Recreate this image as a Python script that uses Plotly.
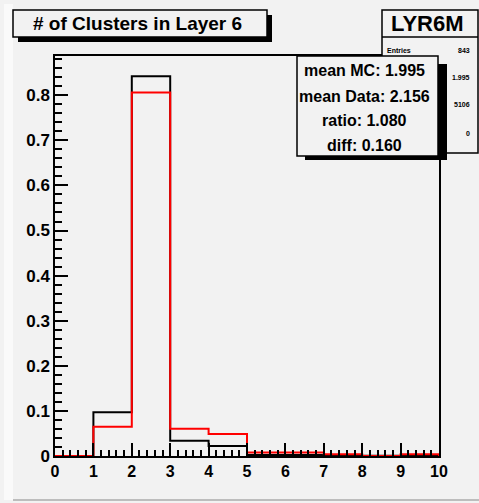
import plotly.graph_objects as go

# ---- data ----
bin_edges = [0, 1, 2, 3, 4, 5, 6, 7, 8, 9, 10]
mc_values = [0.0, 0.097, 0.842, 0.034, 0.022, 0.002, 0.002, 0.0005, 0.0003, 0.0002]
data_values = [0.0, 0.065, 0.806, 0.0605, 0.049, 0.008, 0.008, 0.004, 0.0, 0.004]
y_ticks = [0, 0.1, 0.2, 0.3, 0.4, 0.5, 0.6, 0.7, 0.8]
y_tick_labels = ["0", "0.1", "0.2", "0.3", "0.4", "0.5", "0.6", "0.7", "0.8"]
x_ticks = [0, 1, 2, 3, 4, 5, 6, 7, 8, 9, 10]
title_text = "# of Clusters in Layer 6"
stats_name = "LYR6M"
stats_rows = [("Entries", "843"), ("Mean", "1.995"), ("RMS", "0.5106"), ("Underflow", "0")]
info_lines = ["mean MC: 1.995", "mean Data: 2.156", "ratio: 1.080", "diff: 0.160"]

W, H = 479, 503
L, R, T, B = 55, 439, 56, 456  # plot area in pixels


def px(x):
    return (x - L) / (R - L)


def py(y):
    return (B - y) / (B - T)


def step_xy(edges, vals):
    xs = list(edges) + [edges[-1]]
    ys = list(vals) + [vals[-1], 0]
    return xs, ys


FONT = "Liberation Sans"
fig = go.Figure()
mx, my = step_xy(bin_edges, mc_values)
dx, dy = step_xy(bin_edges, data_values)
fig.add_trace(go.Scatter(x=mx, y=my, mode="lines", line=dict(color="black", width=2, shape="hv"),
                         showlegend=False, name="MC"))
fig.add_trace(go.Scatter(x=dx, y=dy, mode="lines", line=dict(color="#ff0000", width=2, shape="hv"),
                         showlegend=False, name="Data"))

shapes = []
annotations = []


def rect(x0, y0, x1, y1, fill, line_color=None, lw=0, layer="above"):
    shapes.append(dict(type="rect", xref="paper", yref="paper",
                       x0=px(x0), x1=px(x1), y0=py(y1), y1=py(y0),
                       fillcolor=fill, layer=layer,
                       line=dict(color=line_color or fill, width=lw)))


def text(x, y, s, size, anchor="center", bold=True, color="black"):
    annotations.append(dict(xref="paper", yref="paper", x=px(x), y=py(y), text=s,
                            showarrow=False, xanchor=anchor, yanchor="middle",
                            font=dict(family=FONT, size=size, color=color,
                                      weight="bold" if bold else "normal")))


# outer canvas decoration
rect(4, 4, 13, 500, "#fafafa", layer="below")
shapes.append(dict(type="line", xref="paper", yref="paper", x0=px(13), x1=px(479),
                   y0=py(500), y1=py(500), line=dict(color="#bdbdbd", width=2), layer="below"))

# title box with shadow
rect(18, 15, 272, 42, "black")
rect(13, 10, 267, 37, "#f2f2f2", "black", 1.5)
text(137, 23.5, title_text, 19)

# stats box
rect(382, 10, 478, 153, "#f2f2f2", "black", 1.5)
shapes.append(dict(type="line", xref="paper", yref="paper", x0=px(382), x1=px(478),
                   y0=py(37), y1=py(37), line=dict(color="black", width=1.5), layer="above"))
text(427, 23.5, stats_name, 22)
text(385, 50, stats_rows[0][0], 7, anchor="left")
text(472, 50, stats_rows[0][1], 7, anchor="right")
text(472, 77, stats_rows[1][1], 7, anchor="right")
text(472, 104, stats_rows[2][1][2:], 7, anchor="right")
text(472, 133, stats_rows[3][1], 7, anchor="right")

# info box with shadow
rect(305, 64, 447, 160, "black")
rect(297, 56, 438, 156, "#f2f2f2", "black", 1.5)
for i, s in enumerate(info_lines):
    text(364, [71, 96, 120, 145][i], s, 16)

fig.update_layout(
    width=W, height=H,
    margin=dict(l=L, r=W - R, t=T, b=H - B),
    paper_bgcolor="#f2f2f2", plot_bgcolor="#f2f2f2",
    shapes=shapes, annotations=annotations,
    xaxis=dict(range=[0, 10], tickvals=x_ticks, ticks="inside", ticklen=13, tickwidth=1.5,
               tickcolor="black", showline=True, linecolor="black", linewidth=1.5, mirror=True,
               showgrid=False, zeroline=False,
               tickfont=dict(family=FONT, size=16, color="black", weight="bold"),
               minor=dict(dtick=0.2, ticks="inside", ticklen=6, tickwidth=1.5, tickcolor="black",
                          showgrid=False)),
    yaxis=dict(range=[0, 0.887], tickvals=y_ticks, ticktext=y_tick_labels, ticks="inside",
               ticklen=13, tickwidth=1.5, tickcolor="black", showline=True, linecolor="black",
               linewidth=1.5, mirror=True, showgrid=False, zeroline=False,
               tickfont=dict(family=FONT, size=17, color="black", weight="bold"),
               minor=dict(dtick=0.02, ticks="inside", ticklen=7, tickwidth=1.5, tickcolor="black",
                          showgrid=False)),
)

fig.write_html("out.html")
